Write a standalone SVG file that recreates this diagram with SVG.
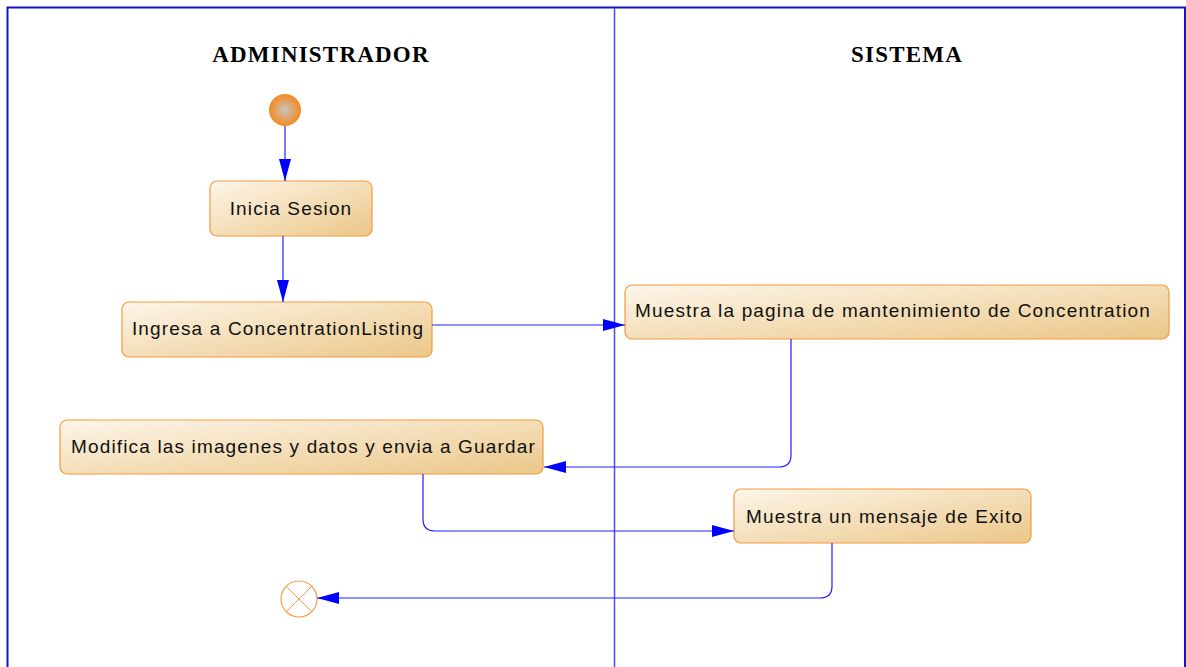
<svg xmlns="http://www.w3.org/2000/svg" width="1186" height="667" viewBox="0 0 1186 667">
<defs>
<linearGradient id="ng" x1="0" y1="0" x2="1" y2="1">
<stop offset="0" stop-color="#fdf6ea"/>
<stop offset="1" stop-color="#ebc788"/>
</linearGradient>
<radialGradient id="sg" cx="0.5" cy="0.5" r="0.5">
<stop offset="0" stop-color="#c8c4c0"/>
<stop offset="1" stop-color="#f58a1e"/>
</radialGradient>
<marker id="ah" viewBox="0 0 22 12" refX="22" refY="6" markerWidth="22" markerHeight="12" markerUnits="userSpaceOnUse" orient="auto">
<path d="M0,0 L22,6 L0,12 z" fill="#0000ff"/>
</marker>
<style>
.frame{fill:none;stroke:#1414c8;stroke-width:2}
.lane{stroke:#4a4aff;stroke-width:1.5}
.title{font-family:"Liberation Serif","Times New Roman",serif;font-weight:bold;font-size:23px;fill:#000;text-anchor:middle;letter-spacing:1.2px}
.node rect{fill:url(#ng);stroke:#f59a3c;stroke-width:1.2}
.node text{font-family:"Liberation Sans",Arial,sans-serif;font-size:19px;fill:#111;letter-spacing:1.15px}
.conn path{fill:none;stroke:#2020ff;stroke-width:1.2;marker-end:url(#ah)}
</style>
</defs>
<rect width="1186" height="667" fill="#fff"/>
<path class="frame" d="M7.5,667 L7.5,7.5 L1185,7.5 L1185,667"/>
<line class="lane" x1="614.5" y1="8" x2="614.5" y2="667"/>
<text class="title" x="321" y="62">ADMINISTRADOR</text>
<text class="title" x="907" y="62">SISTEMA</text>

<g id="start"><circle cx="285" cy="110" r="16" fill="url(#sg)"/></g>
<g id="n1" class="node"><rect x="210" y="181" width="162" height="55" rx="7"/><text x="291" y="215" text-anchor="middle">Inicia Sesion</text></g>
<g id="n2" class="node"><rect x="122" y="302" width="310" height="55" rx="7"/><text x="278" y="335" text-anchor="middle">Ingresa a ConcentrationListing</text></g>
<g id="n3" class="node"><rect x="625" y="285" width="544" height="54" rx="7"/><text x="635" y="317">Muestra la pagina de mantenimiento de Concentration</text></g>
<g id="n4" class="node"><rect x="60" y="420" width="483" height="54" rx="7"/><text x="71" y="453">Modifica las imagenes y datos y envia a Guardar</text></g>
<g id="n5" class="node"><rect x="734" y="489" width="297" height="54" rx="7"/><text x="746" y="523">Muestra un mensaje de Exito</text></g>
<g id="end"><circle cx="299" cy="599" r="18" fill="#fff" stroke="#f5a050" stroke-width="1.2"/><path d="M286.3,586.3 L311.7,611.7 M311.7,586.3 L286.3,611.7" stroke="#f5a050" stroke-width="1"/></g>

<g id="connectors" class="conn">
<path d="M285,126 L285,181"/>
<path d="M283,236 L283,302"/>
<path d="M432,325 L625,325"/>
<path d="M791,339 L791,455 Q791,467 779,467 L544,467"/>
<path d="M423,474 L423,519 Q423,531 435,531 L734,531"/>
<path d="M832,543 L832,586 Q832,598 820,598 L317,598"/>
</g>
</svg>
